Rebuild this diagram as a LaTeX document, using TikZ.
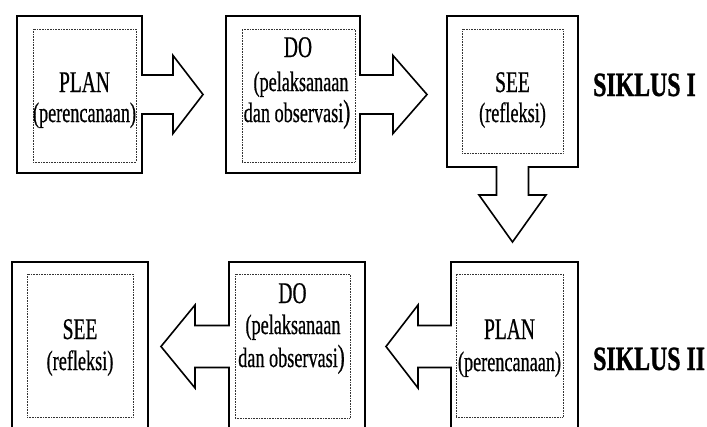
\documentclass[tikz,border=0pt]{standalone}
\usepackage{fontspec}
\setmainfont{Liberation Serif}
\newfontfamily\narrowserif[FakeStretch=0.65,FakeBold=0.6]{Liberation Serif}
\newfontfamily\narrowbold[FakeStretch=0.7,FakeBold=1]{Liberation Serif}
\usetikzlibrary{calc}

\tikzset{
  outerbox/.style={draw, line width=1.6pt, fill=white, inner sep=0pt, outer sep=0pt},
  innerbox/.style={draw=black!80, densely dotted, line width=0.6pt, inner sep=0pt},
  bigarrow/.style={draw, line width=1.6pt, fill=white, line join=miter},
  titletext/.style={anchor=base, inner sep=0pt, font=\narrowserif\fontsize{30}{30}\selectfont},
  subtext/.style={anchor=base, inner sep=0pt, font=\narrowserif\fontsize{28}{28}\selectfont},
  cycletext/.style={anchor=base west, inner sep=0pt, font=\narrowbold\bfseries\fontsize{34}{34}\selectfont}
}

\begin{document}
\begin{tikzpicture}[x=1pt,y=-1pt]

   \useasboundingbox (0,0) rectangle (707,426);
   \clip (0,0) rectangle (707,426);

   % siklus I
   \node[outerbox, minimum width=125pt, minimum height=157pt] (plan1) at (79.5,94.5) {};
   \node[innerbox, minimum width=103pt, minimum height=133pt] (plan1in) at (84.5,95.5) {};
   \node[outerbox, minimum width=134pt, minimum height=157pt] (do1) at (293,94.5) {};
   \node[innerbox, minimum width=113pt, minimum height=133pt] (do1in) at (298.5,95.5) {};
   \node[outerbox, minimum width=131pt, minimum height=151pt] (see1) at (512.5,91.5) {};
   \node[innerbox, minimum width=101pt, minimum height=124pt] (see1in) at (512.5,91) {};

   \draw[bigarrow] ($(plan1.east)+(-0.9,-19.5)$) -- ++(31.9,0) -- ++(0,-19.5)
      -- ++(30,39) -- ++(-30,39) -- ++(0,-19.5) -- ++(-31.9,0);
   \draw[bigarrow] ($(do1.east)+(-0.9,-19.5)$) -- ++(33.9,0) -- ++(0,-19.5)
      -- ++(34,39) -- ++(-34,39) -- ++(0,-19.5) -- ++(-33.9,0);
   \draw[bigarrow] ($(see1.south)+(-16,-0.9)$) -- ++(0,28.9) -- ++(-17.5,0)
      -- ++(33.5,47) -- ++(33.5,-47) -- ++(-17.5,0) -- ++(0,-28.9);

   \node[titletext] (plan1title) at (84.5,92) {PLAN};
   \node[subtext] (plan1sub) at (84.5,122) {(perencanaan)};
   \node[titletext] (do1title) at (298,57) {DO};
   \node[subtext] (do1sub) at (301,91) {(pelaksanaan};
   \node[subtext] (do1sub2) at (297,122) {dan observasi{\fontsize{32}{32}\selectfont)}};
   \node[titletext] (see1title) at (512.5,92) {SEE};
   \node[subtext] (see1sub) at (512.5,122) {(refleksi)};
   \node[cycletext] (cycle1) at (593,96) {SIKLUS I};

   % siklus II
   \node[outerbox, minimum width=136pt, minimum height=169pt] (see2) at (80,346.5) {};
   \node[innerbox, minimum width=106pt, minimum height=143pt] (see2in) at (80,345.5) {};
   \node[outerbox, minimum width=136pt, minimum height=169pt] (do2) at (297,346.5) {};
   \node[innerbox, minimum width=115pt, minimum height=144pt] (do2in) at (292.5,346) {};
   \node[outerbox, minimum width=127pt, minimum height=169pt] (plan2) at (514.5,346.5) {};
   \node[innerbox, minimum width=107pt, minimum height=143pt] (plan2in) at (509.5,345.5) {};

   \draw[bigarrow] ($(do2.west)+(0.9,-21)$) -- ++(-34.9,0) -- ++(0,-20.5)
      -- ++(-34,41.5) -- ++(34,41.5) -- ++(0,-20.5) -- ++(34.9,0);
   \draw[bigarrow] ($(plan2.west)+(0.9,-21)$) -- ++(-33.9,0) -- ++(0,-20.5)
      -- ++(-32,41.5) -- ++(32,41.5) -- ++(0,-20.5) -- ++(33.9,0);

   \node[titletext] (see2title) at (80,339) {SEE};
   \node[subtext] (see2sub) at (80,370) {(refleksi)};
   \node[titletext] (do2title) at (292.5,303) {DO};
   \node[subtext] (do2sub) at (293,334) {(pelaksanaan};
   \node[subtext] (do2sub2) at (291.5,367) {dan observasi{\fontsize{32}{32}\selectfont)}};
   \node[titletext] (plan2title) at (509.5,339) {PLAN};
   \node[subtext] (plan2sub) at (509.5,371) {(perencanaan)};
   \node[cycletext] (cycle2) at (593,370) {SIKLUS II};

\end{tikzpicture}
\end{document}
